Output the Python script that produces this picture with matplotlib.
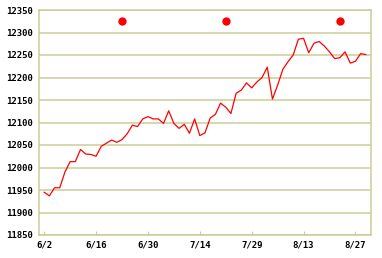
# -*- coding: utf-8 -*-
import numpy as np
import matplotlib
matplotlib.use("Agg")
from matplotlib import pyplot as plt

# valori (zile de tranzactionare)
values = [11945, 11937, 11955, 11955, 11990, 12013, 12013, 12040, 12030, 12029,
          12025, 12047, 12054, 12061, 12056, 12062, 12075, 12094, 12091, 12108,
          12113, 12108, 12108, 12098, 12126, 12098, 12087, 12096, 12076, 12108,
          12071, 12077, 12110, 12118, 12143, 12134, 12120, 12165, 12172, 12188,
          12177, 12190, 12200, 12223, 12152, 12183, 12218, 12235, 12250, 12285,
          12287, 12255, 12276, 12280, 12270, 12257, 12242, 12244, 12257, 12232,
          12236, 12253, 12251]
tick_pos = [0, 10, 20, 30, 40, 50, 60]
tick_labels = ['6/2', '6/16', '6/30', '7/14', '7/29', '8/13', '8/27']
dot_pos = [15, 35, 57]
dot_val = [12325, 12325, 12325]
yticks = list(range(11850, 12351, 50))

DPI = 100
W, H = 382, 258
grid_col = '#cccc99'

fig = plt.figure(figsize=(W / DPI, H / DPI), dpi=DPI)
ax = fig.add_axes([39 / W, 1 - 235 / H, (371 - 39) / W, (235 - 10) / H])

x = np.arange(len(values))
ax.plot(x, values, color='#ff0000', linewidth=0.9)
ax.plot(dot_pos, dot_val, 'o', color='#ff0000', markersize=6, markeredgewidth=0)

ax.set_xlim(-1, 63)
ax.set_ylim(11850, 12350)
ax.set_yticks(yticks)
ax.set_xticks(tick_pos)
ax.set_xticklabels(tick_labels)

for y in yticks:
    ax.axhline(y, color=grid_col, linewidth=1.1, zorder=0)

for s in ax.spines.values():
    s.set_color(grid_col)
    s.set_linewidth(1.1)

ax.tick_params(axis='y', length=0, pad=4, labelsize=6.5)
ax.tick_params(axis='x', direction='in', length=3, color=grid_col, pad=4, labelsize=6.5)
for lab in ax.get_xticklabels() + ax.get_yticklabels():
    lab.set_family('DejaVu Sans Mono')
    lab.set_fontweight('bold')

fig.savefig('out.png', dpi=DPI)
